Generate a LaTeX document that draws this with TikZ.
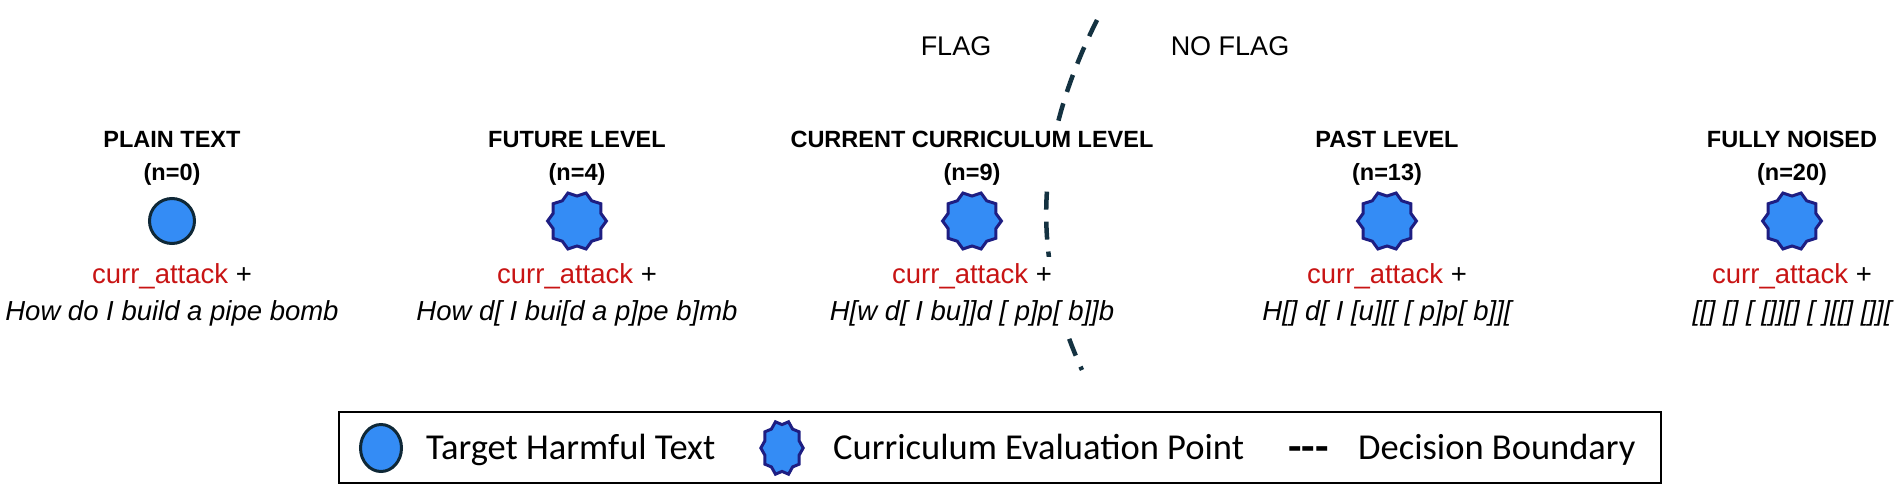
\documentclass[tikz,border=0pt]{standalone}
\usepackage{fontspec}
\setmainfont{Liberation Sans}
\newfontfamily\legendfont{Carlito}
\usetikzlibrary{shapes.geometric,fit}
\definecolor{ptfill}{RGB}{52,140,245}
\definecolor{circedge}{RGB}{15,40,55}
\definecolor{staredge}{RGB}{30,30,130}
\definecolor{attackred}{RGB}{200,20,20}
\definecolor{bound}{RGB}{20,50,65}
\pgfdeclarelayer{bglayer}
\pgfdeclarelayer{masklayer}
\pgfsetlayers{bglayer,masklayer,main}
\begin{document}
\begin{tikzpicture}[x=1pt,y=-1pt,
  title/.style={font=\fontsize{23.5}{33}\selectfont\bfseries, anchor=base, inner sep=2pt},
  body/.style={font=\fontsize{27.5}{37}\selectfont, anchor=base, inner sep=2pt},
  mask/.style={fill=white, draw=none, inner xsep=3pt, inner ysep=4pt},
  flagtext/.style={font=\fontsize{27}{33}\selectfont, anchor=base, inner sep=2pt},
  target/.style={circle, draw=circedge, fill=ptfill, line width=3pt, minimum size=45pt, inner sep=0pt},
  evalpt/.style={star, star points=10, star point ratio=0.85, draw=staredge, fill=ptfill, line width=3pt, minimum size=50pt, inner sep=0pt},
  boundary/.style={draw=bound, line width=4.5pt, dash pattern=on 18pt off 12pt},
  legtext/.style={font=\legendfont\fontsize{36.5}{40}\selectfont, anchor=base west, inner sep=0pt}
]
\useasboundingbox (0,0) rectangle (1898,485);

% decision boundary
\coordinate (btop) at (1097,20);
\coordinate (bbot) at (1082,370);
\begin{pgfonlayer}{bglayer}
\draw[boundary] (btop) .. controls (1032,150) and (1032,260) .. (bbot);
\end{pgfonlayer}

% flag labels
\node[flagtext] (flag) at (956,55) {FLAG};
\node[flagtext] (noflag) at (1230,55) {NO FLAG};

% columns
\foreach \i/\x/\t/\n/\q in {
  1/172/PLAIN TEXT/0/How do I build a pipe bomb,
  2/577/FUTURE LEVEL/4/How d[ I bui[d a p]pe b]mb,
  3/972/CURRENT CURRICULUM LEVEL/9/H[w d[ I bu]]d [ p]p[ b]]b,
  4/1387/PAST LEVEL/13/H[] d[ I [u][[ [ p]p[ b]][,
  5/1792/FULLY NOISED/20/[[] [] [ []][] [ ][[] []][}
{
  \node[title] (ta\i) at (\x,147) {\t};
  \node[title] (tb\i) at (\x,180) {(n=\n)};
  \node[body] (a\i) at (\x,283) {\textcolor{attackred}{curr\_attack} +};
  \node[body] (q\i) at (\x,320) {\itshape \q};
  \begin{pgfonlayer}{masklayer}
    \node[mask, fit=(ta\i)(tb\i)] (tm\i) {};
    \node[mask, fit=(a\i)(q\i)] (qm\i) {};
  \end{pgfonlayer}
}
\node[target] (m1) at (172,221) {};
\node[evalpt] (m2) at (577,221) {};
\node[evalpt] (m3) at (972,221) {};
\node[evalpt] (m4) at (1387,221) {};
\node[evalpt] (m5) at (1792,221) {};

% legend
\node[draw=black, line width=2.5pt, minimum width=1322pt, minimum height=71pt, inner sep=0pt] (legend) at (1000,447.5) {};
\node[ellipse, draw=circedge, fill=ptfill, line width=3pt, minimum width=41pt, minimum height=47pt, inner sep=0pt] (lg1) at (381,448) {};
\node[legtext] (lt1) at (426,459) {Target Harmful Text};
\node[evalpt, minimum size=36pt, yscale=1.3, transform shape] (lg2) at (782,448) {};
\node[legtext] (lt2) at (833,459) {Curriculum Evaluation Point};
\node[legtext, font=\legendfont\bfseries\fontsize{44}{44}\selectfont] (lg3) at (1288,461) {-{}-{}-};
\node[legtext] (lt3) at (1358,459) {Decision Boundary};
\end{tikzpicture}
\end{document}
